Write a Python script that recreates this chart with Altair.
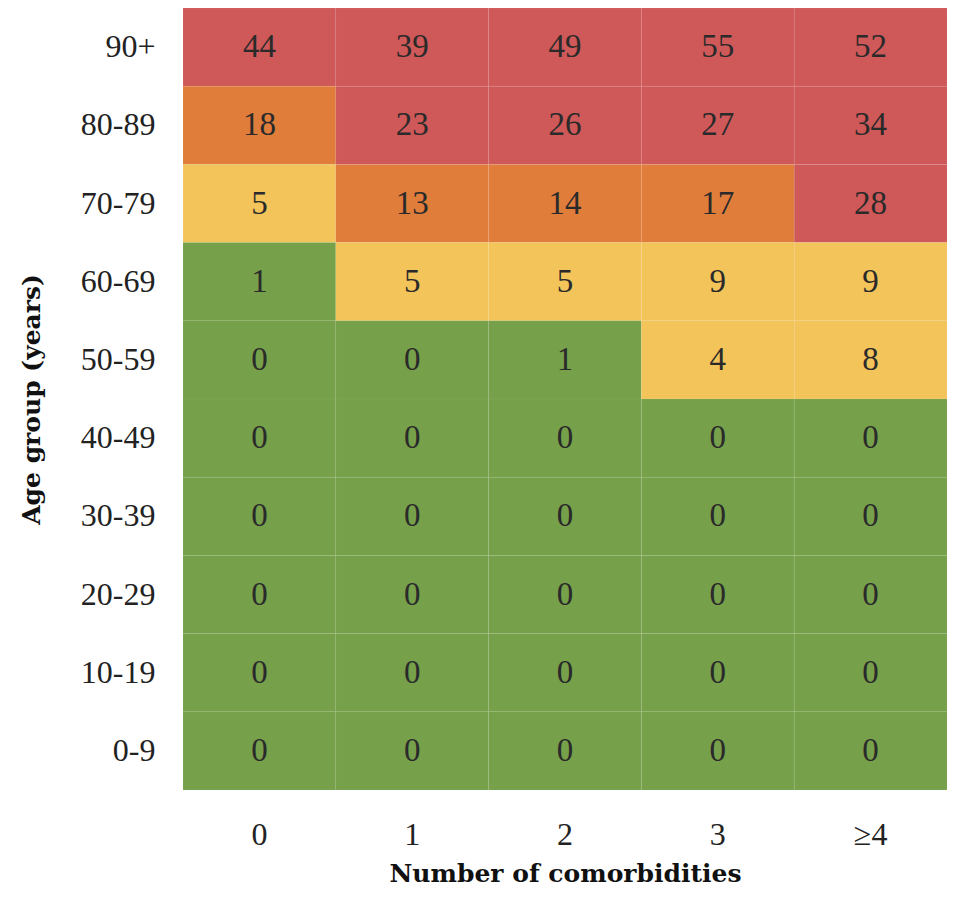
import altair as alt
import pandas as pd

ages = ["90+", "80-89", "70-79", "60-69", "50-59", "40-49", "30-39", "20-29", "10-19", "0-9"]
comorb = ["0", "1", "2", "3", "≥4"]
values = [
    [44, 39, 49, 55, 52],
    [18, 23, 26, 27, 34],
    [5, 13, 14, 17, 28],
    [1, 5, 5, 9, 9],
    [0, 0, 1, 4, 8],
    [0, 0, 0, 0, 0],
    [0, 0, 0, 0, 0],
    [0, 0, 0, 0, 0],
    [0, 0, 0, 0, 0],
    [0, 0, 0, 0, 0],
]

rows = []
for a, vs in zip(ages, values):
    for c, v in zip(comorb, vs):
        rows.append({"age": a, "com": c, "value": v})
df = pd.DataFrame(rows)

FONT = "Liberation Serif"
TFONT = "DejaVu Serif"

base = alt.Chart(df).encode(
    x=alt.X("com:O", sort=comorb, title="Number of comorbidities",
            axis=alt.Axis(labelAngle=0, labelFontSize=32, labelPadding=29, titleFontSize=25,
                          titleFontWeight="bold", titlePadding=11, domain=False, ticks=False,
                          labelFont=FONT, titleFont=TFONT, labelColor="#222", titleColor="#111")),
    y=alt.Y("age:O", sort=ages, title="Age group (years)",
            axis=alt.Axis(labelFontSize=32, labelPadding=28, titleFontSize=25,
                          titleFontWeight="bold", titlePadding=36, domain=False, ticks=False,
                          labelFont=FONT, titleFont=TFONT, labelColor="#222", titleColor="#111")),
)

rect = base.mark_rect(stroke="#ffffff", strokeOpacity=0.06, strokeWidth=1).encode(
    color=alt.Color("value:Q", legend=None,
                    scale=alt.Scale(type="threshold", domain=[2, 12, 20],
                                    range=["#76a04a", "#f2c45a", "#e07d3a", "#cf5858"]))
)

text = base.mark_text(fontSize=33, font=FONT, color="#2a2a2a").encode(text="value:Q")

chart = (rect + text).properties(
    width=764, height=782,
    autosize=alt.AutoSizeParams(type="none"),
    padding={"left": 175, "top": 0, "right": 0, "bottom": 100}
).configure_view(stroke=None).configure_scale(bandPaddingInner=0)

chart.save("out.html", embed_options={"renderer": "svg", "actions": False})
